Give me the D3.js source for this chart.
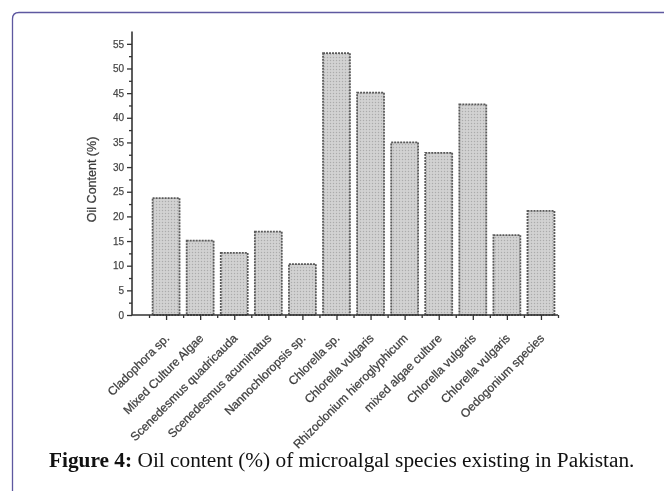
<!DOCTYPE html>
<html><head><meta charset="utf-8">
<script src="https://cdn.jsdelivr.net/npm/d3@7"></script>
<style>body{margin:0;background:#fff}svg{display:block}</style>
</head><body>
<svg id="c" width="664" height="491"></svg>
<script>
const categories = ["Cladophora sp.", "Mixed Culture Algae", "Scenedesmus quadricauda", "Scenedesmus acuminatus",
  "Nannochloropsis sp.", "Chlorella sp.", "Chlorella vulgaris", "Rhizoclonium hieroglyphicum",
  "mixed algae culture", "Chlorella vulgaris", "Chlorella vulgaris", "Oedogonium species"];
const oilContent = [23.7, 15.1, 12.6, 16.9, 10.3, 53.1, 45.1, 35.0, 32.9, 42.7, 16.2, 21.1];
const yTickValues = [0, 5, 10, 15, 20, 25, 30, 35, 40, 45, 50, 55];
const yTitle = "Oil Content (%)";
const captionBold = "Figure 4:";
const captionText = " Oil content (%) of microalgal species existing in Pakistan.";

const svg = d3.select("#c");

// frame
svg.append("path").attr("d", "M12.5,491 V19 Q12.5,12.5 19,12.5 H664")
  .attr("fill", "none").attr("stroke", "#5e58a0").attr("stroke-width", 1.3);

const defs = svg.append("defs");
const pat = defs.append("pattern").attr("id", "dots").attr("patternUnits", "userSpaceOnUse")
  .attr("width", 3).attr("height", 3);
pat.append("rect").attr("width", 3).attr("height", 3).attr("fill", "#cdcdcd");
pat.append("rect").attr("x", 0).attr("y", 0).attr("width", 1).attr("height", 1).attr("fill", "#ababab");
pat.append("rect").attr("x", 1.5).attr("y", 1.5).attr("width", 1).attr("height", 1).attr("fill", "#e2e2e2");
const blur = defs.append("filter").attr("id", "soft");
blur.append("feGaussianBlur").attr("stdDeviation", 0.4);

const g = svg.append("g").attr("filter", "url(#soft)");

const x = d3.scaleLinear().domain([0, 12.5]).range([132, 558]);
const y = d3.scaleLinear().domain([0, 57.5]).range([315, 31.5]);
const barW = 0.79;

g.selectAll("rect.bar").data(oilContent).join("rect").attr("class", "bar")
  .attr("x", (d, i) => x(i + 1 - barW / 2))
  .attr("width", x(barW) - x(0))
  .attr("y", d => y(d))
  .attr("height", d => y(0) - y(d))
  .attr("fill", "url(#dots)")
  .attr("stroke", "#5a5a5a").attr("stroke-width", 1.8).attr("stroke-dasharray", "2,1");

// y axis
const yMajor = d3.axisLeft(y).tickValues(yTickValues).tickSize(5).tickPadding(3).tickFormat(d3.format("d"));
const yMinor = d3.axisLeft(y).tickValues(d3.range(2.5, 57.5, 5)).tickSize(3).tickFormat("");
const ya = g.append("g").attr("transform", "translate(132,0)").call(yMajor);
g.append("g").attr("transform", "translate(132,0)").call(yMinor);
g.selectAll(".domain").remove();
g.append("line").attr("x1", 132).attr("x2", 132).attr("y1", y(57.5)).attr("y2", y(0))
  .attr("stroke", "#333").attr("stroke-width", 1.6);
ya.selectAll("text").attr("font-family", "Arial, 'Liberation Sans', sans-serif").attr("font-size", 10)
  .attr("fill", "#333").attr("stroke", "#666").attr("stroke-width", 0.25);

// x axis
const xMajor = d3.axisBottom(x).tickValues(d3.range(1, 13)).tickSize(5).tickFormat("");
const xMinor = d3.axisBottom(x).tickValues(d3.range(0.5, 13, 1)).tickSize(3).tickFormat("");
g.append("g").attr("transform", "translate(0,315)").call(xMajor).select(".domain").remove();
g.append("g").attr("transform", "translate(0,315)").call(xMinor).select(".domain").remove();
g.append("line").attr("x1", 132).attr("x2", x(12.5)).attr("y1", 315).attr("y2", 315)
  .attr("stroke", "#333").attr("stroke-width", 1.6);
g.selectAll(".tick line").attr("stroke", "#333").attr("stroke-width", 1.3);

// x labels
g.selectAll("text.xl").data(categories).join("text").attr("class", "xl")
  .attr("transform", (d, i) => `translate(${x(i + 1) - 2},${333}) rotate(-45)`)
  .attr("text-anchor", "end").attr("dy", "0.7em")
  .attr("font-family", "Arial, 'Liberation Sans', sans-serif").attr("font-size", 12)
  .attr("fill", "#333").attr("stroke", "#555").attr("stroke-width", 0.3).text(d => d);

// y title
g.append("text").attr("transform", `translate(96,${y(27.5)}) rotate(-90)`)
  .attr("text-anchor", "middle").attr("font-family", "Arial, 'Liberation Sans', sans-serif")
  .attr("font-size", 12.5).attr("fill", "#333").attr("stroke", "#555").attr("stroke-width", 0.3).text(yTitle);

// caption
const cap = svg.append("text").attr("x", 49).attr("y", 467)
  .attr("font-family", "'Times New Roman', 'Liberation Serif', serif").attr("font-size", 19).attr("fill", "#111");
cap.append("tspan").attr("font-weight", "bold").text(captionBold);
cap.append("tspan").text(captionText);
const w = cap.node().getComputedTextLength();
cap.attr("font-size", 19 * 586 / w);
</script>
</body></html>
